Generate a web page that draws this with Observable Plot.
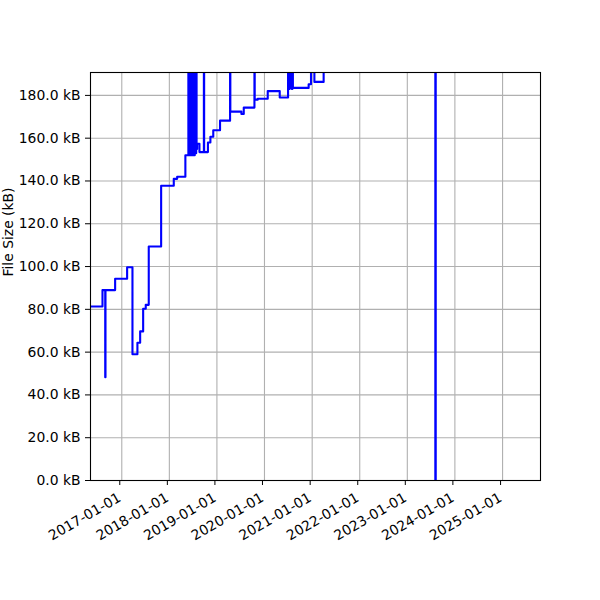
<!DOCTYPE html>
<html><head><meta charset="utf-8">
<script src="https://cdn.jsdelivr.net/npm/d3@7"></script>
<script src="https://cdn.jsdelivr.net/npm/@observablehq/plot@0.6"></script>
<style>body{margin:0;background:#fff}</style>
</head><body><div id="chart"></div>
<script>
// Commit dates and file sizes (kB); values above ~190 kB are off the top of the view
const dates = [
  "2016-05-06","2016-08-06","2016-08-27","2016-08-29","2016-11-11",
  "2017-02-11","2017-03-24","2017-05-01","2017-05-22","2017-06-14",
  "2017-07-04","2017-07-27","2017-10-30","2018-02-04","2018-03-02",
  "2018-05-04","2018-05-27","2018-05-29","2018-05-31","2018-06-02",
  "2018-06-04","2018-06-06","2018-06-08","2018-06-10","2018-06-12",
  "2018-06-14","2018-06-16","2018-06-18","2018-06-21","2018-06-23",
  "2018-06-26","2018-06-28","2018-07-01","2018-07-03","2018-07-05",
  "2018-07-08","2018-07-10","2018-07-12","2018-07-15","2018-07-17",
  "2018-07-20","2018-07-23","2018-07-26","2018-07-29","2018-08-02",
  "2018-08-20","2018-09-23","2018-09-25","2018-10-24","2018-11-12",
  "2018-12-04","2019-01-25","2019-04-12","2019-04-14","2019-07-08",
  "2019-07-26","2019-10-16","2019-10-18","2019-11-10","2020-01-26",
  "2020-04-27","2020-06-30","2020-07-03","2020-07-06","2020-07-09",
  "2020-07-12","2020-07-15","2020-07-19","2020-07-22","2020-07-26",
  "2020-07-29","2020-08-02","2020-08-06","2020-12-05","2020-12-23",
  "2021-01-18","2021-03-30","2021-10-15","2022-07-01","2023-08-04",
  "2023-08-07","2024-05-20","2025-06-01"
];
const sizesKB = [
  81.3, 89.0, 48.3, 89.0, 94.3,
  99.7, 59.0, 64.4, 69.7, 80.3,
  82.1, 109.4, 137.8, 141.0, 142.0,
  152.0, 260, 152.0, 255, 152.5,
  250, 152.0, 258, 153.0, 252,
  152.5, 256, 152.0, 251, 153.0,
  254, 152.0, 257, 154.0, 253,
  155.0, 255, 152.0, 258, 154.0,
  252, 153.0, 256, 155.0, 157.4,
  153.5, 248, 153.5, 158.0, 160.7,
  163.7, 168.2, 245, 172.4, 171.3,
  174.3, 246, 178.0, 178.4, 182.0,
  179.0, 249, 183.5, 247, 183.0,
  250, 183.5, 248, 183.5, 251,
  183.0, 247, 183.5, 185.2, 243,
  186.3, 196, 204, 211, 0,
  219, 226, 233
];
const xTickLabels = ["2017-01-01","2018-01-01","2019-01-01","2020-01-01","2021-01-01","2022-01-01","2023-01-01","2024-01-01","2025-01-01"];
const yTickValues = [0, 20, 40, 60, 80, 100, 120, 140, 160, 180];
const xDomain = ["2016-05-06", "2025-10-19"];
const yDomain = [0, 190.7];

const data = dates.map((d, i) => ({date: new Date(d), size: sizesKB[i]}));
const xTicks = xTickLabels.map(d => new Date(d));

const chart = Plot.plot({
  width: 600, height: 600,
  marginLeft: 90, marginRight: 60, marginTop: 72, marginBottom: 120,
  style: {fontFamily: "DejaVu Sans", fontSize: "13.9px", background: "white", color: "black"},
  x: {type: "utc", domain: xDomain.map(d => new Date(d))},
  y: {domain: yDomain},
  marks: [
    Plot.gridX(xTicks, {stroke: "#b0b0b0", strokeOpacity: 1, strokeWidth: 1.1}),
    Plot.gridY(yTickValues, {stroke: "#b0b0b0", strokeOpacity: 1, strokeWidth: 1.1}),
    Plot.lineY(data, {x: "date", y: "size", curve: "step-after", stroke: "#0000ff", strokeWidth: 2.1, clip: true}),
    Plot.frame({stroke: "black", strokeWidth: 1.1}),
    Plot.axisX(xTicks, {tickFormat: d3.utcFormat("%Y-%m-%d"), tickRotate: -30, tickSize: 5, tickPadding: 11, dx: -2, label: null, fontSize: 13.9}),
    Plot.axisY(yTickValues, {tickFormat: d => d.toFixed(1) + " kB", tickSize: 5, tickPadding: 5, label: null, fontSize: 13.9}),
    Plot.text(["File Size (kB)"], {text: d => d, frameAnchor: "left", dx: -82, rotate: -90, fontSize: 13.9, fill: "black"})
  ]
});
document.getElementById("chart").appendChild(chart);
</script>
</body></html>
